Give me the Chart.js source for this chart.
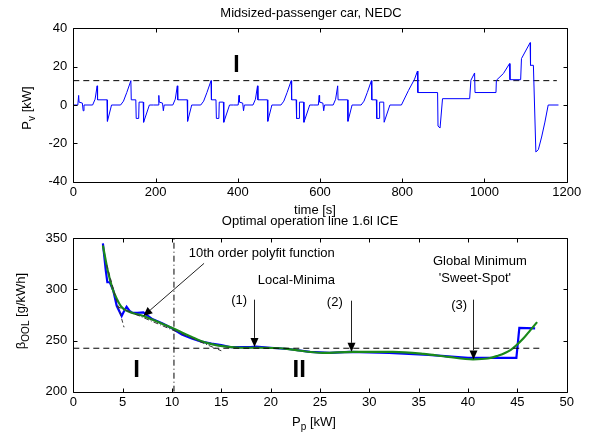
<!DOCTYPE html>
<html>
<head>
<meta charset="utf-8">
<script src="https://cdn.jsdelivr.net/npm/chart.js@4.4.1/dist/chart.umd.min.js"></script>
<style>
    body { margin: 0; background: #fff; }
    .wrap { position: relative; width: 591px; height: 435px; }
    canvas { position: absolute; left: 0; top: 0; }
</style>
</head>
<body>
<div class="wrap">
    <canvas id="cycleChart" width="591" height="435"></canvas>
    <canvas id="oolChart" width="591" height="435"></canvas>
</div>
<script>
// NEDC power demand of the vehicle: 4 ECE urban cycles + EUDC
const cycleTime = [
    0, 11, 13, 14, 22, 24, 26, 47, 53, 58, 59, 82, 83, 93, 115, 122, 130, 140, 141, 152, 153, 159, 160, 170, 171, 185,
    195, 206, 208, 209, 217, 219, 221, 242, 248, 253, 254, 277, 278, 288, 310, 317, 325, 335, 336, 347, 348, 354, 355, 365, 366, 380,
    390, 401, 403, 404, 412, 414, 416, 437, 443, 448, 449, 472, 473, 483, 505, 512, 520, 530, 531, 542, 543, 549, 550, 560, 561, 575,
    585, 596, 598, 599, 607, 609, 611, 632, 638, 643, 644, 667, 668, 678, 700, 707, 715, 725, 726, 737, 738, 744, 745, 755, 756, 770,
    780, 798, 815, 830, 837, 838, 886, 887, 892, 898, 964, 967, 976, 977, 1028, 1029, 1046, 1061, 1062, 1088, 1090, 1111, 1112, 1119,
    1125, 1131, 1139, 1147, 1155, 1180
];
const cyclePower = [
    0, 0, 5, 1.5, 1, -3, 0, 0, 3, 10, 2.7, 2.7, -8.5, 0, 0, 2, 6.5, 12.7, 2.7, 2.7, -7, -7, 1.5, 1.5, -9, 0,
    0, 0, 5, 1.5, 1, -3, 0, 0, 3, 10, 2.7, 2.7, -8.5, 0, 0, 2, 6.5, 12.7, 2.7, 2.7, -7, -7, 1.5, 1.5, -9, 0,
    0, 0, 5, 1.5, 1, -3, 0, 0, 3, 10, 2.7, 2.7, -8.5, 0, 0, 2, 6.5, 12.7, 2.7, 2.7, -7, -7, 1.5, 1.5, -9, 0,
    0, 0, 5, 1.5, 1, -3, 0, 0, 3, 10, 2.7, 2.7, -8.5, 0, 0, 2, 6.5, 12.7, 2.7, 2.7, -7, -7, 1.5, 1.5, -9, 0,
    0, 0, 7.5, 13.5, 17.7, 6.5, 6.5, -11, -12, 3.3, 3.3, 12.9, 16.7, 6.5, 6.5, 12.9, 16.4, 21.6, 13.2, 13.2, 24.2, 32.5, 20.7, 20.7,
    -24.5, -23.3, -16.7, -8.9, 0, 0
];
const thresholdTime = [0, 1176];
const thresholdPower = [12.7, 12.7];

// optimal operation line of the 1.6l engine
const oolPower = [3.0, 3.3, 3.45, 3.7, 4.05, 4.4, 4.7, 4.9, 5.1, 5.4, 5.7, 6.0, 6.5, 7.1, 7.6, 8, 9, 10, 11, 12, 13, 14, 15, 16, 18, 18.5,
    20, 22, 24, 26, 28, 30, 32, 34, 36, 38, 40, 42, 44.9, 45.2, 46.8];
const oolBsfc = [345, 318, 307, 307, 299, 284, 278, 274, 278, 283, 279, 277, 277, 277.5, 274, 271, 267, 262, 256, 252, 249, 247, 245.5, 243.5, 243.5, 244,
    243, 241.5, 239, 238, 239, 238.5, 238, 237, 236, 234.5, 233, 233, 233, 262.5, 262];

// 10th order polyfit of the line above
const fitPower = [3.0, 3.5, 4.0, 4.4, 4.8, 5.24, 6, 7.1, 8, 9, 10.1, 11, 12, 12.8, 14, 15.5, 17, 19, 21, 22, 25.3, 28.3, 32.4, 35.5, 38,
    40.5, 42, 42.9, 44.3, 45.6, 46.3, 47];
const fitBsfc = [343, 318, 300, 291, 284, 280, 277, 274, 270.5, 266.5, 262, 258, 253.5, 250, 246.5, 244, 243, 243, 242.5, 241.4, 238, 239, 239, 237, 234,
    231.7, 232.5, 234.8, 240.7, 252, 260, 268];

// helper lines
const steepPower = [3.38, 5.14];
const steepBsfc = [324, 263];
const shallowPower = [4.4, 15];
const shallowBsfc = [283.5, 240];
const levelPower = [0, 47.6];
const levelBsfc = [242.5, 242.5];
const splitPower = [10.2, 10.2];
const splitBsfc = [200, 350];

// marked minima: [label, label x, label baseline, power, arrow top, arrow tip]
const minima = [
    ['(1)', 16.8, 285.7, 18.3, 290, 243.8],
    ['(2)', 26.5, 284.2, 28.1, 289, 239],
    ['(3)', 39.1, 281, 40.5, 290, 231.6]
];

const FONT = '"Liberation Sans", Arial, Helvetica, sans-serif';

function toPoints(xs, ys) {
    return xs.map((x, i) => ({ x: x, y: ys[i] }));
}

// draws text pieces, some of them as subscript, centered on (x, y)
function drawParts(ctx, parts, x, y, size, rotate) {
    ctx.save();
    ctx.translate(x, y);
    if (rotate) {
        ctx.rotate(-Math.PI / 2);
    }
    ctx.textBaseline = 'alphabetic';
    ctx.textAlign = 'left';
    let total = 0;
    parts.forEach(p => {
        ctx.font = (p[1] ? size - 3 : size) + 'px ' + FONT;
        total += ctx.measureText(p[0]).width;
    });
    let pos = -total / 2;
    parts.forEach(p => {
        ctx.font = (p[1] ? size - 3 : size) + 'px ' + FONT;
        ctx.fillText(p[0], pos, p[1] ? 4 : 0);
        pos += ctx.measureText(p[0]).width;
    });
    ctx.restore();
}

function drawText(ctx, text, x, y, size, weight) {
    ctx.save();
    ctx.font = (weight || 'normal') + ' ' + size + 'px ' + FONT;
    ctx.textAlign = 'center';
    ctx.textBaseline = 'alphabetic';
    ctx.fillStyle = '#000';
    ctx.fillText(text, x, y);
    ctx.restore();
}

function drawArrow(ctx, x1, y1, x2, y2) {
    const ang = Math.atan2(y2 - y1, x2 - x1);
    const len = 9;
    const half = 4;
    const bx = x2 - len * Math.cos(ang);
    const by = y2 - len * Math.sin(ang);
    ctx.save();
    ctx.strokeStyle = '#222';
    ctx.lineWidth = 1;
    ctx.beginPath();
    ctx.moveTo(x1, y1);
    ctx.lineTo(bx, by);
    ctx.stroke();
    ctx.fillStyle = '#000';
    ctx.beginPath();
    ctx.moveTo(x2, y2);
    ctx.lineTo(bx + half * Math.sin(ang), by - half * Math.cos(ang));
    ctx.lineTo(bx - half * Math.sin(ang), by + half * Math.cos(ang));
    ctx.closePath();
    ctx.fill();
    ctx.restore();
}

// box around the plot area with inward ticks on all four sides
const framePlugin = {
    id: 'frame',
    afterDatasetsDraw(chart) {
        const { ctx, chartArea: a, scales } = chart;
        const left = Math.round(a.left) + 0.5;
        const right = Math.round(a.right) + 0.5;
        const top = Math.round(a.top) + 0.5;
        const bottom = Math.round(a.bottom) + 0.5;
        ctx.save();
        ctx.strokeStyle = '#000';
        ctx.lineWidth = 1;
        ctx.beginPath();
        ctx.rect(left, top, right - left, bottom - top);
        scales.x.ticks.forEach(t => {
            const px = Math.round(scales.x.getPixelForValue(t.value)) + 0.5;
            ctx.moveTo(px, bottom);
            ctx.lineTo(px, bottom - 4);
            ctx.moveTo(px, top);
            ctx.lineTo(px, top + 4);
        });
        scales.y.ticks.forEach(t => {
            const py = Math.round(scales.y.getPixelForValue(t.value)) + 0.5;
            ctx.moveTo(left, py);
            ctx.lineTo(left + 4, py);
            ctx.moveTo(right, py);
            ctx.lineTo(right - 4, py);
        });
        ctx.stroke();
        ctx.restore();
    }
};

const cycleLabels = {
    id: 'cycleLabels',
    afterDraw(chart) {
        const { ctx, scales } = chart;
        ctx.fillStyle = '#000';
        drawText(ctx, 'Midsized-passenger car, NEDC', 311, 17, 13);
        drawText(ctx, 'time [s]', 315, 214, 13);
        drawText(ctx, 'I', scales.x.getPixelForValue(397), scales.y.getPixelForValue(17.2), 23, 'bold');
        drawParts(ctx, [['P', false], ['v', true], [' [kW]', false]], 31, 108, 13, true);
    }
};

const oolLabels = {
    id: 'oolLabels',
    afterDraw(chart) {
        const { ctx, scales } = chart;
        const x = v => scales.x.getPixelForValue(v);
        const y = v => scales.y.getPixelForValue(v);
        ctx.fillStyle = '#000';
        drawText(ctx, 'Optimal operation line 1.6l ICE', 310, 225, 13);
        drawParts(ctx, [['P', false], ['p', true], [' [kW]', false]], 314, 426, 13, false);
        drawParts(ctx, [['\u03b2', false], ['OOL', true], [' [g/kWh]', false]], 25, 311, 13, true);

        drawText(ctx, '10th order polyfit function', x(19.1), y(331.7), 13);
        drawArrow(ctx, x(13.25), y(325.5), x(7.1), y(274));
        drawText(ctx, 'Local-Minima', x(22.6), y(305.3), 13);
        drawText(ctx, 'Global Minimum', x(41.2), y(323.6), 13);
        drawText(ctx, '\'Sweet-Spot\'', x(40.7), y(307.2), 13);

        minima.forEach(m => {
            drawText(ctx, m[0], x(m[1]), y(m[2]), 13);
            const px = Math.round(x(m[3])) + 0.5;
            drawArrow(ctx, px, y(m[4]), px, y(m[5]));
        });

        drawText(ctx, 'I', x(6.42), y(214), 24, 'bold');
        drawText(ctx, 'II', x(22.9), y(214), 24, 'bold');
    }
};

const tickFont = { family: FONT, size: 13 };
const plainTick = value => String(value);

const cycleConfig = {
    type: 'scatter',
    data: {
        datasets: [{
            data: toPoints(cycleTime, cyclePower),
            showLine: true,
            borderColor: '#0000ff',
            borderWidth: 1,
            pointRadius: 0
        }, {
            data: toPoints(thresholdTime, thresholdPower),
            showLine: true,
            borderColor: '#000',
            borderWidth: 1,
            borderDash: [6, 4],
            pointRadius: 0
        }]
    },
    options: {
        responsive: false,
        animation: false,
        layout: { padding: { top: 28.3, right: 24.3, bottom: 435 - 181.7 - 30, left: 0 } },
        plugins: { legend: { display: false }, tooltip: { enabled: false } },
        scales: {
            x: {
                min: 0,
                max: 1200,
                ticks: { stepSize: 200, color: '#000', font: tickFont, padding: 3, maxRotation: 0, callback: plainTick },
                grid: { display: false, drawTicks: false },
                border: { display: false },
                afterFit: scale => { scale.height = 30; }
            },
            y: {
                min: -40,
                max: 40,
                ticks: { stepSize: 20, color: '#000', font: tickFont, padding: 6, callback: plainTick },
                grid: { display: false, drawTicks: false },
                border: { display: false },
                afterFit: scale => { scale.width = 73.3; }
            }
        }
    },
    plugins: [framePlugin, cycleLabels]
};

new Chart(
    document.getElementById('cycleChart'),
    cycleConfig
);

const oolConfig = {
    type: 'scatter',
    data: {
        datasets: [{
            data: toPoints(oolPower, oolBsfc),
            showLine: true,
            borderColor: '#0000ff',
            borderWidth: 2.2,
            pointRadius: 0,
            order: 3
        }, {
            data: toPoints(fitPower, fitBsfc),
            showLine: true,
            borderColor: '#1a8a1a',
            borderWidth: 2.2,
            cubicInterpolationMode: 'monotone',
            pointRadius: 0,
            order: 2
        }, {
            data: toPoints(steepPower, steepBsfc),
            showLine: true,
            borderColor: '#333',
            borderWidth: 1,
            borderDash: [4, 3],
            pointRadius: 0,
            order: 1
        }, {
            data: toPoints(shallowPower, shallowBsfc),
            showLine: true,
            borderColor: '#333',
            borderWidth: 1,
            borderDash: [5, 2, 1, 2],
            pointRadius: 0,
            order: 1
        }, {
            data: toPoints(levelPower, levelBsfc),
            showLine: true,
            borderColor: '#000',
            borderWidth: 1,
            borderDash: [6, 4],
            pointRadius: 0,
            order: 1
        }, {
            data: toPoints(splitPower, splitBsfc),
            showLine: true,
            borderColor: '#000',
            borderWidth: 1,
            borderDash: [6, 3, 1, 3],
            pointRadius: 0,
            order: 1
        }]
    },
    options: {
        responsive: false,
        animation: false,
        layout: { padding: { top: 238.3, right: 24.3, bottom: 435 - 391.7 - 30, left: 0 } },
        plugins: { legend: { display: false }, tooltip: { enabled: false } },
        scales: {
            x: {
                min: 0,
                max: 50,
                ticks: { stepSize: 5, color: '#000', font: tickFont, padding: 3, maxRotation: 0, callback: plainTick },
                grid: { display: false, drawTicks: false },
                border: { display: false },
                afterFit: scale => { scale.height = 30; }
            },
            y: {
                min: 200,
                max: 350,
                ticks: { stepSize: 50, color: '#000', font: tickFont, padding: 6, callback: plainTick },
                grid: { display: false, drawTicks: false },
                border: { display: false },
                afterFit: scale => { scale.width = 73.3; }
            }
        }
    },
    plugins: [framePlugin, oolLabels]
};

new Chart(
    document.getElementById('oolChart'),
    oolConfig
);
</script>
</body>
</html>
